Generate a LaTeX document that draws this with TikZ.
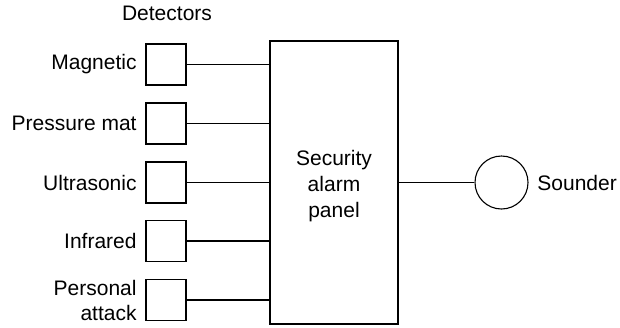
\documentclass[tikz,border=0pt]{standalone}
\usepackage{fontspec}
\setmainfont{Liberation Sans}
\begin{document}
\begin{tikzpicture}[x=0.5pt,y=-0.5pt,
  every node/.style={font=\fontsize{10.5pt}{12.5pt}\selectfont},
  detbox/.style={draw,line width=0.55pt,minimum width=20pt,minimum height=20.5pt,inner sep=0pt},
  lbl/.style={anchor=east,align=right,inner sep=0pt},
  wire/.style={line width=0.55pt}]
\useasboundingbox (0,0) rectangle (620,327);
\node[inner sep=0pt] (det) at (167,13) {Detectors};
\node[draw,line width=0.65pt,minimum width=64pt,minimum height=141.5pt,inner sep=0pt] (panel) at (334,182.5) {};
\node[inner sep=0pt,align=center,font=\fontsize{10.5pt}{13pt}\selectfont] (ptext) at (334,186) {Security\\alarm\\panel};
\foreach \n/\y/\t in {m/64.5/Magnetic,p/123.5/Pressure mat,u/182.5/Ultrasonic,i/241/Infrared,a/300/{Personal\\attack}}{
  \node[detbox] (\n) at (166,\y) {};
  \node[lbl] (\n l) at (137,\y) {\t};
  \draw[wire] (\n.east) -- (panel.west |- \n.east);
}
\node[draw,circle,line width=0.55pt,minimum size=26.5pt,inner sep=0pt] (snd) at (501.5,182.5) {};
\node[anchor=west,inner sep=0pt] (sndl) at (537,182.5) {Sounder};
\draw[wire] (panel.east |- snd.west) -- (snd.west);
\end{tikzpicture}
\end{document}
